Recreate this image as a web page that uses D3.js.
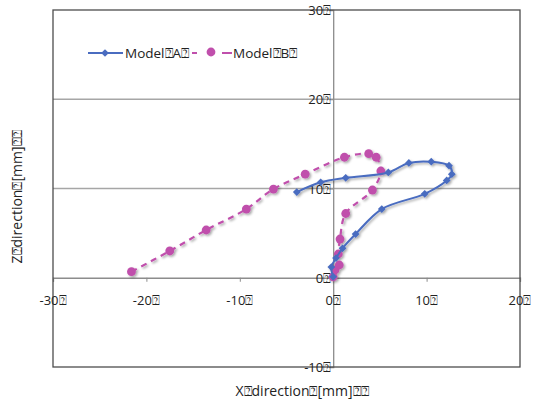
<!DOCTYPE html>
<html><head><meta charset="utf-8">
<script src="https://cdn.jsdelivr.net/npm/d3@7"></script>
<style>body{margin:0;background:#fff}text{font-family:"Open Sans","Noto Sans",sans-serif;fill:#222}</style>
</head><body><svg id="c" width="537" height="401"></svg>
<script>
const BOX = "\u2370";
const xTicks = [-30, -20, -10, 0, 10, 20];
const yTicks = [-10, 0, 10, 20, 30];
const seriesNames = ["Model" + BOX + "A" + BOX, "Model" + BOX + "B" + BOX];
const modelAx = [0, -0.2, 0.3, 1.0, 2.4, 5.2, 9.8, 12.15, 12.7, 12.4, 10.5, 8.1, 5.9, 1.34, -1.34, -3.9];
const modelAy = [0.1, 1.2, 2.2, 3.3, 4.9, 7.7, 9.4, 10.9, 11.6, 12.55, 13.0, 12.86, 11.8, 11.2, 10.7, 9.6];
const modelBx = [0, 0.2, 0.65, 0.55, 0.73, 1.34, 4.2, 5.1, 4.6, 3.8, 1.2, -3.0, -6.4, -9.3, -13.6, -17.5, -21.6];
const modelBy = [0.1, 0.87, 1.43, 2.66, 4.34, 7.2, 9.83, 11.96, 13.5, 13.9, 13.5, 11.6, 9.94, 7.7, 5.35, 3.0, 0.68];
const xTitle = "X" + BOX + "direction" + BOX + "[mm]" + BOX + BOX;
const yTitle = "Z" + BOX + "direction" + BOX + "[mm]" + BOX + BOX;

const svg = d3.select("#c");
const L = 53, R = 520, T = 10, B = 367;
const x = d3.scaleLinear().domain([-30, 20]).range([L, R]);
const y = d3.scaleLinear().domain([-10, 30]).range([B, T]);

const defs = svg.append("defs");
const f = defs.append("filter").attr("id", "sh").attr("x", "-50%").attr("y", "-50%").attr("width", "200%").attr("height", "200%");
f.append("feDropShadow").attr("dx", 1.5).attr("dy", 1.5).attr("stdDeviation", 1.2).attr("flood-color", "#000").attr("flood-opacity", 0.35);

// gridlines
svg.append("g").selectAll("line").data(yTicks.filter(d => d !== 0 && d !== -10 && d !== 30)).join("line")
  .attr("x1", L).attr("x2", R).attr("y1", d => y(d)).attr("y2", d => y(d))
  .attr("stroke", "#a6a6a6").attr("stroke-width", 1.3);

// axes through origin
const xAxis = d3.axisBottom(x).tickValues(xTicks).tickSize(4).tickFormat("");
const gx = svg.append("g").attr("transform", `translate(0,${y(0)})`).call(xAxis);
gx.select(".domain").attr("stroke", "#8c8c8c").attr("stroke-width", 1.3);
gx.selectAll(".tick line").attr("stroke", "#8c8c8c");
const yAxis = d3.axisLeft(y).tickValues(yTicks).tickSize(4).tickFormat("");
const gy = svg.append("g").attr("transform", `translate(${x(0)},0)`).call(yAxis);
gy.select(".domain").attr("stroke", "#8c8c8c").attr("stroke-width", 1.3);
gy.selectAll(".tick line").attr("stroke", "#8c8c8c");

// border
svg.append("rect").attr("x", L).attr("y", T).attr("width", R - L).attr("height", B - T)
  .attr("fill", "none").attr("stroke", "#4d4d4d").attr("stroke-width", 1.3);

// tick labels
svg.append("g").selectAll("text").data(xTicks).join("text")
  .attr("x", d => x(d)).attr("y", y(0) + 27).attr("text-anchor", "middle")
  .attr("font-size", 13).text(d => d + BOX);
svg.append("g").selectAll("text").data(yTicks).join("text")
  .attr("x", x(0) - 2).attr("y", d => y(d) + 5).attr("text-anchor", "end")
  .attr("font-size", 13).text(d => d + BOX);

// series
const colA = "#4a6cc0", colB = "#c04fac";
const ptsA = modelAx.map((v, i) => [v, modelAy[i]]);
const ptsB = modelBx.map((v, i) => [v, modelBy[i]]);
const line = d3.line().x(d => x(d[0])).y(d => y(d[1])).curve(d3.curveCatmullRom.alpha(0.5));
const gs = svg.append("g").attr("filter", "url(#sh)");
gs.append("path").datum(ptsB).attr("d", line).attr("fill", "none").attr("stroke", colB)
  .attr("stroke-width", 2.2).attr("stroke-dasharray", "6,5");
gs.append("g").selectAll("circle").data(ptsB).join("circle")
  .attr("cx", d => x(d[0])).attr("cy", d => y(d[1])).attr("r", 4.4).attr("fill", colB);
gs.append("path").datum(ptsA).attr("d", line).attr("fill", "none").attr("stroke", colA).attr("stroke-width", 2);
const diamond = d3.symbol().type(d3.symbolSquare).size(30);
gs.append("g").selectAll("path").data(ptsA).join("path")
  .attr("transform", d => `translate(${x(d[0])},${y(d[1])}) rotate(45)`).attr("d", diamond).attr("fill", colA);

// legend
const lg = svg.append("g");
lg.append("line").attr("x1", 88).attr("x2", 123).attr("y1", 53).attr("y2", 53).attr("stroke", colA).attr("stroke-width", 2);
lg.append("path").attr("transform", "translate(105,53) rotate(45)").attr("d", diamond).attr("fill", colA);
lg.append("text").attr("x", 125).attr("y", 58).attr("font-size", 13.5).text(seriesNames[0]);
lg.append("line").attr("x1", 192).attr("x2", 232).attr("y1", 53).attr("y2", 53).attr("stroke", colB).attr("stroke-width", 2).attr("stroke-dasharray", "5,30");
lg.append("line").attr("x1", 222).attr("x2", 228).attr("y1", 53).attr("y2", 53).attr("stroke", colB).attr("stroke-width", 2);
lg.append("circle").attr("cx", 211).attr("cy", 52).attr("r", 4.4).attr("fill", colB);
lg.append("text").attr("x", 233).attr("y", 58).attr("font-size", 13.5).text(seriesNames[1]);

// axis titles
svg.append("text").attr("x", 302).attr("y", 396).attr("text-anchor", "middle").attr("font-size", 14).text(xTitle);
svg.append("text").attr("transform", "translate(22,197) rotate(-90)").attr("text-anchor", "middle").attr("font-size", 14).text(yTitle);
</script></body></html>
